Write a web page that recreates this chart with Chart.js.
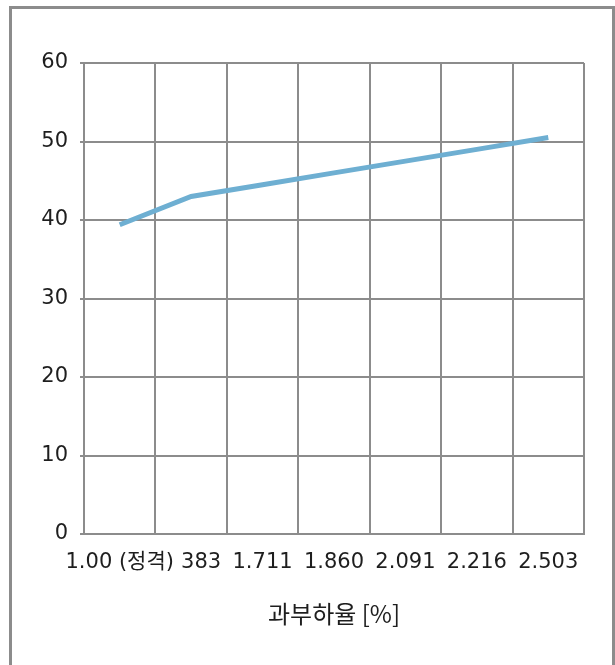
<!DOCTYPE html>
<html lang="ko">
<head>
<meta charset="utf-8">
<title>과부하율</title>
<script src="https://cdn.jsdelivr.net/npm/chart.js@4/dist/chart.umd.min.js"></script>
<style>
  html, body { margin: 0; padding: 0; background: #ffffff; overflow: hidden; }
  #frame {
    position: absolute; left: 9px; top: 6px;
    width: 600px; height: 700px;
    border: 3px solid #8c8c8c;
  }
  #wrap { position: absolute; left: 0; top: 0; width: 615px; height: 665px; }
</style>
</head>
<body>
<div id="frame"></div>
<div id="wrap"><canvas id="chart" width="615" height="665"></canvas></div>
<script>
// 과부하율 categories and measured values
const loadRatio = ['1.00 (정격)', '1.383', '1.711', '1.860', '2.091', '2.216', '2.503'];
const values = [39.4, 43.0, 44.5, 46.0, 47.5, 49.0, 50.5];
const yTicks = [0, 10, 20, 30, 40, 50, 60];
const xTitle = '과부하율 [%]';

// The x axis is reversed so labels are painted right to left; each label's
// white backdrop then covers the overlapping start of its right neighbour.
const axisLabels = loadRatio.slice().reverse();
const axisValues = values.slice().reverse();

const gridColor = '#8c8c8c';
const textColor = '#1e1e1e';
const tickFont = { family: "'DejaVu Sans', 'Noto Sans CJK KR', sans-serif", size: 21 };

new Chart(document.getElementById('chart'), {
  type: 'line',
  data: {
    labels: axisLabels,
    datasets: [{
      data: axisValues,
      borderColor: '#6eafd2',
      borderWidth: 5,
      pointRadius: 0,
      tension: 0,
      fill: false
    }]
  },
  options: {
    responsive: false,
    animation: false,
    layout: { padding: { left: 0, top: 63, right: 31, bottom: 0 } },
    plugins: { legend: { display: false }, tooltip: { enabled: false } },
    scales: {
      x: {
        type: 'category',
        reverse: true,
        offset: true,
        grid: { offset: true, color: gridColor, lineWidth: 2, drawTicks: false },
        border: { color: gridColor, width: 2 },
        ticks: {
          autoSkip: false, maxRotation: 0, minRotation: 0,
          padding: 16, color: textColor, font: tickFont,
          showLabelBackdrop: true, backdropColor: '#ffffff',
          backdropPadding: { left: 6, right: 6, top: 2, bottom: 2 }
        },
        title: {
          display: true, text: xTitle, color: textColor,
          font: { family: "'Noto Sans CJK KR', sans-serif", size: 24 },
          padding: { top: 4, bottom: 37 }
        },
        afterFit: (scale) => { scale.height = 131; }
      },
      y: {
        min: 0, max: 60,
        afterBuildTicks: (scale) => { scale.ticks = yTicks.map(v => ({ value: v })); },
        grid: { color: gridColor, lineWidth: 2, tickLength: 4 },
        border: { color: gridColor, width: 2 },
        ticks: { padding: 12, color: textColor, font: tickFont },
        afterFit: (scale) => { scale.width = 84; }
      }
    }
  }
});
</script>
</body>
</html>
